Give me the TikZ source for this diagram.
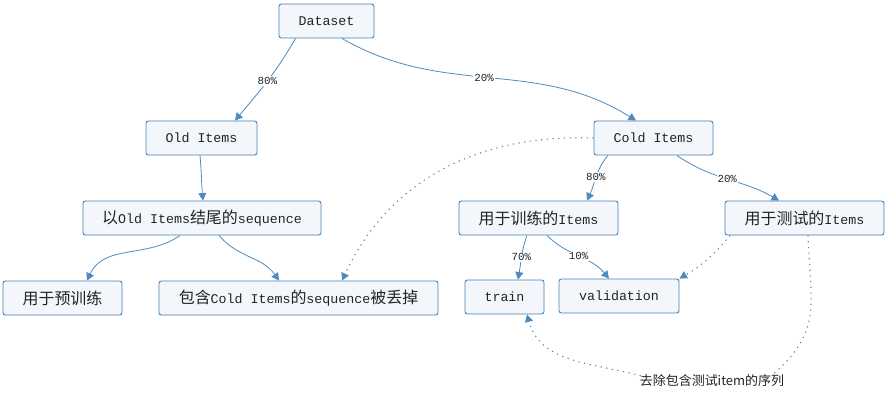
\documentclass[tikz,border=0pt]{standalone}
\usepackage{fontspec}
\usepackage{tikz}
\usetikzlibrary{arrows.meta}
\setmainfont{Liberation Mono}
\newfontfamily\cjk[Scale=1.2]{Noto Sans CJK SC}
\newcommand{\zh}[1]{{\cjk #1}}
\definecolor{boxline}{RGB}{70,130,180}
\definecolor{boxfill}{RGB}{243,247,252}
\definecolor{edgeline}{RGB}{78,138,188}
\definecolor{txt}{RGB}{35,35,35}

\begin{document}
\begin{tikzpicture}[x=1pt,y=-1pt,
	box/.style={draw=boxline,fill=boxfill,rounded corners=2.5pt,line width=0.9pt,
		minimum height=34pt,inner sep=0pt,text=txt,font=\fontsize{13.3}{16}\selectfont},
	lbl/.style={fill=white,inner sep=1pt,text=txt,font=\fontsize{10.8}{13}\selectfont},
	arr/.style={draw=edgeline,line width=0.8pt,-{Triangle[length=7.5pt,width=8pt]}},
	dotline/.style={arr,line width=1.1pt,dash pattern=on 1.2pt off 4.5pt}]
	\useasboundingbox (0,0) rectangle (891,401);
	
	% Boxes
	\node[box,minimum width=95pt] (dataset) at (326.5,21) {Dataset};
	\node[box,minimum width=111pt] (old) at (201.5,138) {Old Items};
	\node[box,minimum width=119pt] (cold) at (653.5,138) {Cold Items};
	
	\node[box,minimum width=238pt] (oldseq) at (202,218) {\zh{以}Old Items\zh{结尾的}sequence};
	\node[box,minimum width=159pt] (trainitems) at (538.5,218) {\zh{用于训练的}Items};
	\node[box,minimum width=159pt] (testitems) at (804.5,218) {\zh{用于测试的}Items};
	
	\node[box,minimum width=119pt] (pretrain) at (62.5,298) {\zh{用于预训练}};
	\node[box,minimum width=279pt] (dropped) at (298.5,298) {\zh{包含}Cold Items\zh{的}sequence\zh{被丢掉}};
	\node[box,minimum width=79pt] (train) at (504.5,297) {train};
	\node[box,minimum width=120pt] (valid) at (619,296) {validation};
	
	\node[lbl,fill=none] (rm) at (712,381) {{\cjk 去除包含测试item的序列}};
	
	% Split of the dataset
	\draw[arr] ([xshift=-31pt]dataset.south) to[out=-120,in=50] node[lbl] {80\%} ([xshift=33.5pt]old.north);
	\draw[arr] ([xshift=15.5pt]dataset.south) to[out=-30,in=148] node[lbl,pos=0.48] {20\%} ([xshift=-17.5pt]cold.north);
	
	% Old items side
	\draw[arr] ([xshift=-1.5pt]old.south) to[out=-85,in=95] ([xshift=1pt]oldseq.north);
	\draw[arr] ([xshift=-22pt]oldseq.south) to[out=-145,in=65] ([xshift=24.5pt]pretrain.north);
	\draw[arr] ([xshift=17pt]oldseq.south) to[out=-50,in=125] ([xshift=-19.5pt]dropped.north);
	\draw[dotline] (cold.west) to[out=178,in=65] ([xshift=43.5pt]dropped.north);
	
	% Cold items side
	\draw[arr] ([xshift=-45.5pt]cold.south) to[out=-130,in=65] node[lbl] {80\%} ([xshift=48.5pt]trainitems.north);
	\draw[arr] ([xshift=23.5pt]cold.south) to[out=-35,in=150] node[lbl] {20\%} ([xshift=-25.5pt]testitems.north);
	\draw[arr] ([xshift=-11.5pt]trainitems.south) to[out=-110,in=80] node[lbl] {70\%} ([xshift=13.5pt]train.north);
	\draw[arr] ([xshift=8.5pt]trainitems.south) to[out=-45,in=130] node[lbl] {10\%} ([xshift=-10pt]valid.north);
	\draw[dotline] ([xshift=-74.5pt]testitems.south) to[out=-130,in=30] (valid.north east);
	
	% Sequences with test items removed from train
	\draw[dotline,-] ([xshift=3.5pt]testitems.south) to[out=-88,in=40,looseness=1.2] ([xshift=-14pt,yshift=-2pt]rm.north east);
	\draw[dotline] ([xshift=2pt,yshift=-2pt]rm.north west) to[out=165,in=-75] ([xshift=22.5pt]train.south);
\end{tikzpicture}
\end{document}
